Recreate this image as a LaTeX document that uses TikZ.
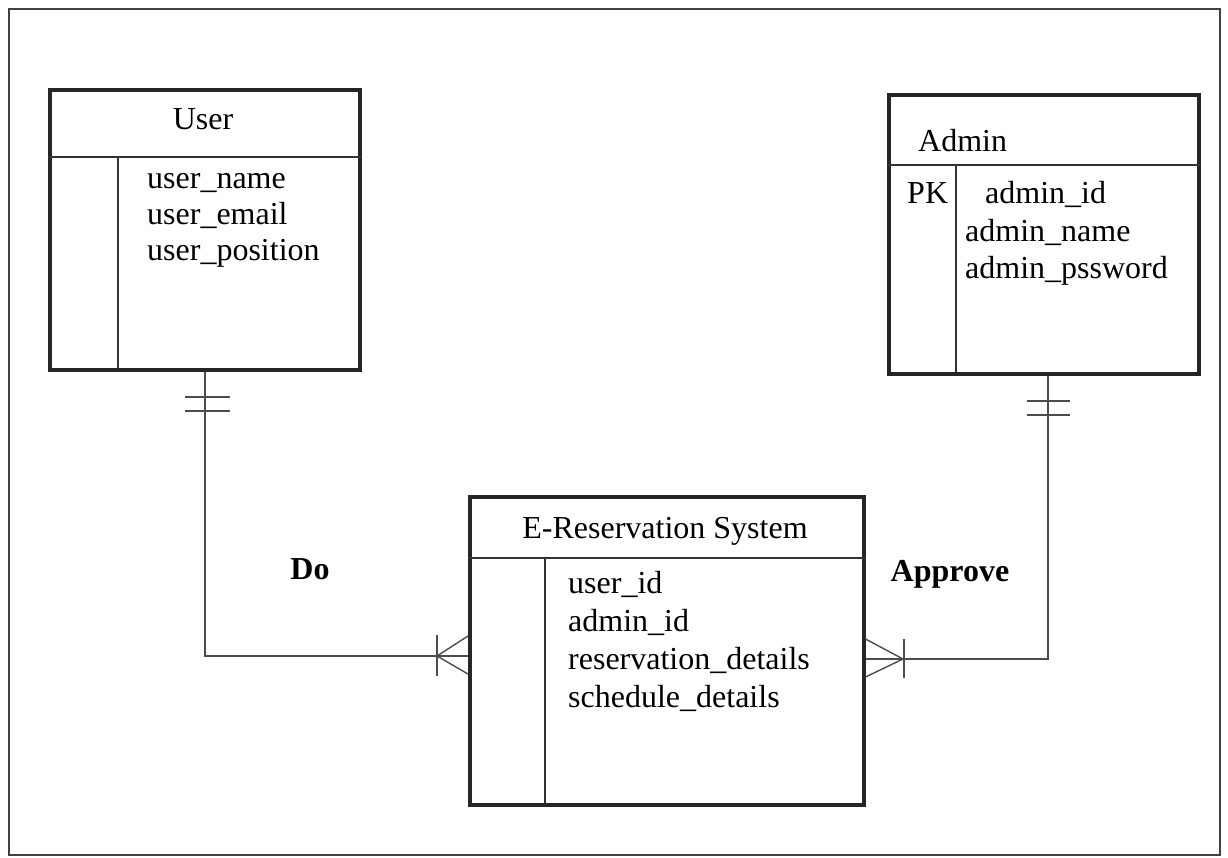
\documentclass[tikz,border=0pt]{standalone}
\usepackage{fontspec}
\setmainfont{Liberation Serif}
\begin{document}
\begin{tikzpicture}[x=1pt,y=-1pt,
  entity/.style={draw=black!85, line width=3.5pt, inner sep=0pt, anchor=north west},
  divider/.style={draw=black!80, line width=1.3pt},
  link/.style={draw=black!70, line width=1.4pt},
  attr/.style={inner sep=0pt, anchor=base west, font=\fontsize{32}{36}\selectfont},
  title/.style={inner sep=0pt, anchor=base, font=\fontsize{32}{36}\selectfont},
  rel/.style={inner sep=0pt, anchor=base, font=\fontsize{32}{36}\selectfont\bfseries}]
\useasboundingbox (0,0) rectangle (1228,857);
% outer frame
\draw[black!75, line width=1.4pt] (9,9) rectangle (1220,855);

% ---- User entity
\node[entity, minimum width=310pt, minimum height=280pt] (user) at (48,88) {};
\draw[divider] (user.west |- 0,157) -- (user.east |- 0,157);
\draw[divider] (118,157) -- (118,368);
\node[title] (usert) at (203,129) {User};
\node[attr] (u1) at (147,188) {user\_name};
\node[attr] (u2) at (147,224) {user\_email};
\node[attr] (u3) at (147,260) {user\_position};

% ---- Admin entity
\node[entity, minimum width=310pt, minimum height=279pt] (admin) at (887,93) {};
\draw[divider] (admin.west |- 0,165) -- (admin.east |- 0,165);
\draw[divider] (956,165) -- (956,372);
\node[attr] (admint) at (918,151) {Admin};
\node[attr] (pk) at (907,203) {PK};
\node[attr] (a1) at (985,203) {admin\_id};
\node[attr] (a2) at (965,241) {admin\_name};
\node[attr] (a3) at (965,278) {admin\_pssword};

% ---- E-Reservation System entity
\node[entity, minimum width=394pt, minimum height=308pt] (ers) at (468,495) {};
\draw[divider] (ers.west |- 0,558) -- (ers.east |- 0,558);
\draw[divider] (545,558) -- (545,803);
\node[title] (erst) at (665,538) {E-Reservation System};
\node[attr] (e1) at (568,593) {user\_id};
\node[attr] (e2) at (568,631) {admin\_id};
\node[attr] (e3) at (568,669) {reservation\_details};
\node[attr] (e4) at (568,707) {schedule\_details};

% ---- relationship labels
\node[rel] (do) at (310,579) {Do};
\node[rel] (approve) at (950,581) {Approve};

% ---- User -- E-Reservation (one to many)
\coordinate (uj) at (205,656);
\coordinate (uc) at (437,656);
\draw[link] (user.south -| uj) -- (uj) -- (uj -| ers.west);
\draw[link] (185,397) -- (230,397) (185,411) -- (230,411);
\draw[link] (437,635) -- (437,676);
\draw[link] (uc) -- (ers.west |- 0,636) (uc) -- (ers.west |- 0,674);

% ---- Admin -- E-Reservation (one to many)
\coordinate (aj) at (1048,659);
\coordinate (ac) at (903,659);
\draw[link] (admin.south -| aj) -- (aj) -- (aj -| ers.east);
\draw[link] (1027,401) -- (1070,401) (1027,415) -- (1070,415);
\draw[link] (904,639) -- (904,678);
\draw[link] (ac) -- (ers.east |- 0,639) (ac) -- (ers.east |- 0,677);
\end{tikzpicture}
\end{document}
